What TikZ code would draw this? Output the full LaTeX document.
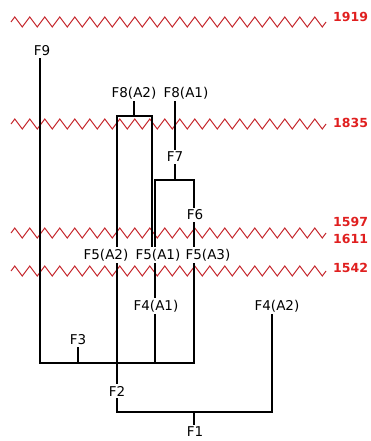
\documentclass[tikz,border=0pt]{standalone}
\usepackage{amsmath}
\usepackage{xcolor}
\usepackage{fontspec}
\setmainfont{DejaVu Sans}
\usepackage{tikz}
\usetikzlibrary{positioning}

\definecolor{wavered}{HTML}{C62A2F}
\definecolor{yearred}{HTML}{E01F1F}

\begin{document}
\begin{tikzpicture}[x=1pt,y=-1pt,
  lbl/.style={inner sep=2pt,font=\fontsize{13.5}{15}\selectfont},
  yearlbl/.style={anchor=west,inner sep=0pt,text=yearred,font=\fontsize{12.5}{14}\selectfont\bfseries},
  wave/.style={wavered,line width=1pt,line join=miter},
  tree/.style={black,line width=1.3pt}]

\useasboundingbox (0,0) rectangle (370,441);

% time lines
\foreach \yy in {22,124,233,271}
  \draw[wave] plot[domain=11:326,samples=85,variable=\x] ({\x},{\yy-5*sin(24*(\x-11))});

\node[yearlbl](y1919) at (333,17) {1919};
\node[yearlbl](y1835) at (333,123) {1835};
\node[yearlbl](y1597) at (333,222) {1597};
\node[yearlbl](y1611) at (333,239) {1611};
\node[yearlbl](y1542) at (333,268) {1542};

% labels
\node[lbl](f9) at (42,51) {F9};
\node[lbl](f8a2) at (134,93) {F8(A2)};
\node[lbl](f8a1) at (186,93) {F8(A1)};
\node[lbl](f7) at (175,157) {F7};
\node[lbl](f6) at (195,215) {F6};
\node[lbl](f5a2) at (106,255) {F5(A2)};
\node[lbl](f5a1) at (158,255) {F5(A1)};
\node[lbl](f5a3) at (208,255) {F5(A3)};
\node[lbl](f4a1) at (156,306) {F4(A1)};
\node[lbl](f4a2) at (277,306) {F4(A2)};
\node[lbl](f3) at (78,340) {F3};
\node[lbl](f2) at (117,391) {F2};
\node[lbl](f1) at (195,432) {F1};

\coordinate (boxl) at (117,116);
\coordinate (boxr) at (152,116);
\coordinate (br7l) at (155,180);
\coordinate (br7r) at (194,180);
\coordinate (bar3l) at (40,363);
\coordinate (bar3r) at (194,363);
\coordinate (bar1l) at (117,412);
\coordinate (bar1r) at (272,412);

% upper part
\draw[tree] (f8a2.south) -- (f8a2.south |- boxl);
\draw[tree] (boxl |- f5a2.north) -- (boxl) -- (boxr) -- (boxr |- f5a1.north);
\draw[tree] (f8a1.south -| f7) -- (f7.north);
\draw[tree] (f7.south) -- (f7.south |- br7l);
\draw[tree] (br7l |- f5a1.north) -- (br7l) -- (br7r) -- (f6.north -| br7r);
\draw[tree] (f6.south -| br7r) -- (br7r |- f5a3.north);

% lower part
\draw[tree] (f9.south -| bar3l) -- (bar3l) -- (bar3r) -- (bar3r |- f5a3.south);
\draw[tree] (f3.south) -- (f3.south |- bar3l);
\draw[tree] (br7l |- f5a1.south) -- (f4a1.north -| br7l);
\draw[tree] (f4a1.south -| br7l) -- (br7l |- bar3l);
\draw[tree] (boxl |- f5a2.south) -- (f2.north);
\draw[tree] (f2.south) -- (bar1l) -- (bar1r) -- (f4a2.south -| bar1r);
\draw[tree] (f1.north -| br7r) -- (br7r |- bar1l);
\end{tikzpicture}
\end{document}
